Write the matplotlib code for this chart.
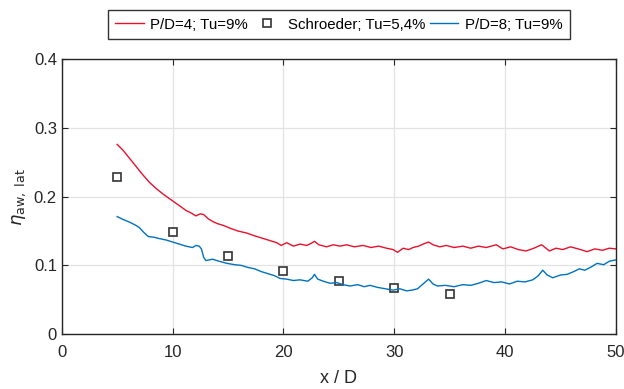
import matplotlib.pyplot as plt

plt.rcParams['font.family'] = ['Liberation Sans', 'DejaVu Sans']

# P/D=4; Tu=9%
red_x = [5.0, 5.5, 6.1, 6.7, 7.3, 7.9, 8.5, 9.2, 9.9, 10.6, 11.2, 11.7, 12.1, 12.5,
         12.8, 13.2, 13.6, 14.0, 14.6, 15.2, 15.9, 16.7, 17.4, 18.2, 18.8, 19.4, 19.8,
         20.3, 20.9, 21.5, 22.1, 22.5, 22.8, 23.2, 23.9, 24.5, 25.1, 25.7, 26.4, 27.2,
         27.9, 28.6, 29.3, 29.9, 30.3, 30.8, 31.3, 31.7, 32.2, 32.6, 33.1, 33.5, 34.1,
         34.7, 35.4, 36.2, 36.9, 37.6, 38.3, 39.2, 39.8, 40.5, 41.2, 41.9, 42.6, 43.3,
         44.0, 44.6, 45.2, 45.9, 46.6, 47.4, 48.1, 48.8, 49.4, 50.0]
red_y = [0.276, 0.268, 0.256, 0.244, 0.232, 0.221, 0.212, 0.203, 0.195, 0.187, 0.180,
         0.176, 0.172, 0.175, 0.174, 0.168, 0.164, 0.161, 0.158, 0.154, 0.150, 0.147,
         0.143, 0.139, 0.136, 0.133, 0.129, 0.133, 0.128, 0.131, 0.129, 0.132, 0.135,
         0.130, 0.127, 0.130, 0.128, 0.130, 0.127, 0.129, 0.126, 0.128, 0.125, 0.123,
         0.119, 0.125, 0.123, 0.126, 0.128, 0.131, 0.134, 0.130, 0.127, 0.129, 0.126,
         0.128, 0.125, 0.128, 0.126, 0.130, 0.124, 0.127, 0.123, 0.121, 0.125, 0.130,
         0.121, 0.125, 0.123, 0.127, 0.124, 0.120, 0.124, 0.122, 0.125, 0.124]

# P/D=8; Tu=9%
blue_x = [5.0, 5.5, 6.1, 6.6, 7.0, 7.4, 7.8, 8.3, 8.8, 9.4, 10.0, 10.6, 11.2, 11.8,
          12.1, 12.4, 12.6, 12.8, 13.0, 13.6, 14.2, 14.9, 15.6, 16.2, 16.8, 17.4, 18.0,
          18.6, 19.2, 19.7, 20.3, 20.9, 21.5, 22.2, 22.6, 22.8, 23.1, 23.6, 24.2, 24.8,
          25.4, 26.0, 26.7, 27.3, 27.8, 28.5, 29.2, 29.9, 30.5, 31.1, 31.6, 32.1, 32.6,
          33.1, 33.5, 33.9, 34.6, 35.4, 36.2, 36.9, 37.6, 38.3, 39.0, 39.7, 40.4, 41.1,
          41.8, 42.5, 43.0, 43.4, 43.8, 44.3, 45.0, 45.6, 46.2, 46.7, 47.2, 47.8, 48.3,
          48.9, 49.4, 50.0]
blue_y = [0.171, 0.167, 0.163, 0.159, 0.155, 0.148, 0.142, 0.141, 0.139, 0.137, 0.134,
          0.131, 0.128, 0.126, 0.129, 0.128, 0.124, 0.112, 0.107, 0.109, 0.106, 0.103,
          0.101, 0.100, 0.097, 0.095, 0.091, 0.088, 0.085, 0.081, 0.080, 0.078, 0.079,
          0.077, 0.082, 0.087, 0.080, 0.077, 0.074, 0.075, 0.072, 0.070, 0.072, 0.069,
          0.071, 0.068, 0.066, 0.064, 0.066, 0.063, 0.064, 0.066, 0.073, 0.080, 0.073,
          0.070, 0.071, 0.069, 0.072, 0.071, 0.074, 0.078, 0.075, 0.076, 0.073, 0.077,
          0.076, 0.079, 0.085, 0.093, 0.086, 0.082, 0.086, 0.087, 0.091, 0.095, 0.093,
          0.098, 0.103, 0.101, 0.106, 0.108]

# Schroeder; Tu=5,4%
sch_x = [5, 10, 15, 20, 25, 30, 35]
sch_y = [0.228, 0.148, 0.113, 0.092, 0.077, 0.067, 0.058]

fig = plt.figure(figsize=(6.24, 3.89), dpi=100)
ax = fig.add_axes([0.099, 0.141, 0.888, 0.707])

ax.plot(red_x, red_y, color='#e8112d', linewidth=1.0, label='P/D=4; Tu=9%')
ax.plot(sch_x, sch_y, linestyle='none', marker='s', markersize=6,
        markerfacecolor='white', markeredgecolor='#333333', markeredgewidth=1.2,
        label='Schroeder; Tu=5,4%')
ax.plot(blue_x, blue_y, color='#0072bd', linewidth=1.0, label='P/D=8; Tu=9%')

ax.set_xlim(0, 50)
ax.set_ylim(0, 0.4)
ax.set_xticks([0, 10, 20, 30, 40, 50])
ax.set_yticks([0, 0.1, 0.2, 0.3, 0.4])
ax.set_yticklabels(['0', '0.1', '0.2', '0.3', '0.4'])
ax.grid(True, color='#e3e3e3', linewidth=0.9)
ax.set_axisbelow(True)
ax.tick_params(direction='in', top=True, right=True, labelsize=12,
               colors='#262626', length=4)
ax.tick_params(axis='x', pad=8)
for s in ax.spines.values():
    s.set_color('#262626')
    s.set_linewidth(1.0)

ax.set_xlabel('x / D', fontsize=13, color='#262626', labelpad=7)
ax.set_ylabel(r'$\eta_{\mathrm{aw,\ lat}}$', fontsize=13, color='#262626')

leg = ax.legend(loc='lower center', bbox_to_anchor=(0.5, 1.073), ncol=3,
                fontsize=10.8, frameon=True, fancybox=False, handlelength=1.9,
                handletextpad=0.45, columnspacing=0.3, borderpad=0.5,
                borderaxespad=0)
leg.get_frame().set_edgecolor('black')
leg.get_frame().set_linewidth(1.0)

fig.savefig('out.png', dpi=100)
